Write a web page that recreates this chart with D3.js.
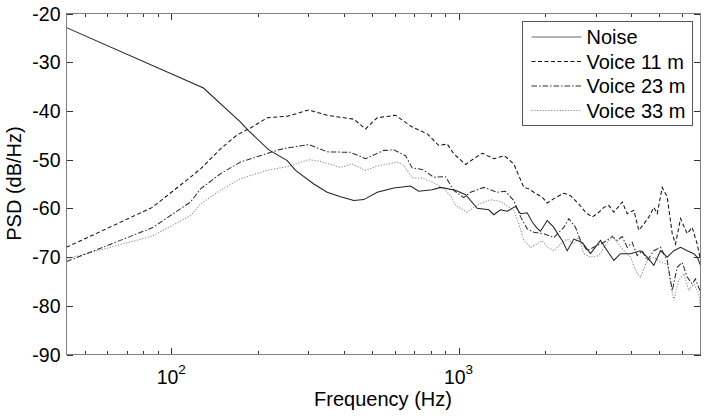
<!DOCTYPE html>
<html><head><meta charset="utf-8">
<script src="https://cdn.jsdelivr.net/npm/d3@7"></script>
<style>body{margin:0;background:#fff}svg{display:block}text{font-family:Arial,"Liberation Sans",Helvetica,sans-serif;fill:#000}</style>
</head><body><svg id="chart" width="707" height="418"></svg>
<script>
const seriesNames = ["Noise", "Voice 11 m", "Voice 23 m", "Voice 33 m"];

const noiseFreq = [43.2,129.5,174.3,183.9,218.6,253.4,270.8,313.6,349.1,388.5,432.1,468.2,521.2,595.4,680.6,727.3,809.9,865.9,976.3,1058,1162,1275,1327,1400,1477,1579,1644,1734,1805,1879,1929,2036,2147,2235,2296,2390,2520,2695,2880,3121,3293,3472,3664,3969,4300,4538,4784,5048,5327,5617,5927,6252,6592,6773,6955];
const noiseDb = [-22.9,-35.3,-42.3,-43.8,-48.0,-50.2,-52.2,-55.0,-56.7,-57.6,-58.4,-58.2,-56.7,-55.8,-55.4,-56.5,-56.2,-55.7,-56.3,-57.2,-60.0,-60.3,-61.3,-60.3,-60.6,-59.6,-61.1,-60.9,-62.8,-64.1,-64.7,-62.5,-63.9,-65.6,-66.6,-68.7,-66.3,-67.0,-69.3,-66.6,-68.7,-70.7,-69.3,-69.3,-68.7,-70.0,-71.7,-68.7,-70.0,-68.7,-68.0,-68.7,-69.3,-70.0,-71.7];

const voice11Freq = [43.2,85.9,116.7,126.5,148.4,169.7,188.8,215.9,253.4,301.3,349.1,432.1,474.6,521.2,603.4,690.0,778.1,854.1,913.5,963.0,1058,1130,1209,1327,1446,1558,1622,1688,1757,1829,1956,2036,2147,2326,2454,2623,2767,2921,3079,3205,3336,3472,3714,3866,4076,4242,4416,4596,4784,4916,5117,5327,5545,5693,5927,6252,6508,6773,6955];
const voice11Db = [-68.0,-59.8,-53.6,-51.9,-47.8,-44.9,-43.5,-41.4,-41.1,-39.8,-40.9,-41.7,-43.7,-41.4,-40.9,-43.3,-44.7,-47.1,-46.8,-48.8,-51.0,-49.8,-48.7,-49.8,-49.2,-50.9,-53.3,-55.7,-56.0,-56.7,-57.7,-58.9,-58.0,-56.9,-57.4,-59.1,-60.8,-61.8,-60.8,-59.8,-59.4,-60.8,-58.7,-61.1,-60.4,-64.5,-63.2,-61.8,-59.8,-61.1,-55.7,-57.7,-65.2,-67.3,-62.1,-65.2,-63.9,-67.3,-70.7];

const voice23Freq = [43.2,85.9,116.7,126.5,148.4,174.3,235.6,253.4,301.3,349.1,420.8,474.6,549.5,595.4,653.9,690.0,747.6,820.4,901.0,963.0,1043,1101,1225,1364,1457,1558,1644,1734,1829,1981,2147,2326,2421,2554,2659,2805,3040,3205,3428,3568,3714,3866,4024,4188,4360,4538,4784,5048,5327,5545,5770,6007,6252,6508,6683,6955];
const voice23Db = [-70.9,-64.0,-58.7,-56.0,-52.9,-50.5,-48.0,-47.6,-46.9,-48.4,-48.5,-49.8,-48.1,-48.0,-49.2,-51.7,-52.0,-53.6,-53.5,-56.3,-57.8,-56.7,-55.7,-56.7,-56.5,-58.4,-61.7,-64.2,-64.9,-65.2,-66.0,-63.9,-62.1,-63.9,-66.6,-68.7,-67.6,-67.0,-65.8,-66.6,-65.8,-68.0,-67.0,-69.7,-68.7,-70.7,-68.7,-68.0,-70.7,-76.9,-72.1,-71.1,-74.1,-75.5,-74.5,-77.2];

const voice33Freq = [43.2,85.9,116.7,126.5,148.4,174.3,215.9,255.4,301.3,330.9,388.5,426.6,474.6,521.2,611.7,645.1,690.0,747.6,809.9,888.9,938.0,976.3,1072,1177,1293,1400,1558,1622,1688,1784,1879,1956,2036,2147,2265,2390,2520,2623,2730,2880,3079,3249,3428,3568,3761,3969,4133,4300,4538,4784,5048,5327,5617,5845,6085,6334,6592,6861,6955];
const voice33Db = [-70.4,-65.7,-61.5,-59.1,-56.3,-53.9,-52.2,-51.4,-50.0,-50.4,-51.6,-50.9,-52.2,-51.3,-50.5,-51.2,-53.7,-53.8,-54.6,-56.0,-57.4,-59.4,-60.8,-59.1,-58.2,-58.6,-60.4,-63.2,-66.6,-68.0,-67.3,-66.6,-68.0,-68.7,-67.3,-66.3,-67.3,-65.9,-69.3,-70.0,-69.7,-67.6,-65.6,-67.0,-68.7,-70.0,-72.8,-74.1,-70.7,-70.0,-71.1,-71.4,-78.9,-74.8,-73.4,-76.9,-75.5,-77.5,-80.5];

const xDomain = [43.2, 6955];
const yDomain = [-90, -20];
const yTicks = [-90, -80, -70, -60, -50, -40, -30, -20];
const xMajorTicks = [100, 1000];
const xMajorExp = ["2", "3"];
const xMinorTicks = [50, 60, 70, 80, 90, 200, 300, 400, 500, 600, 700, 800, 900, 2000, 3000, 4000, 5000, 6000];
const xTitle = "Frequency (Hz)";
const yTitle = "PSD (dB/Hz)";

const W = 707, H = 418;
const m = {left: 66, right: 7, top: 13, bottom: 64};
const pw = W - m.left - m.right, ph = H - m.top - m.bottom;

const svg = d3.select("#chart");
const x = d3.scaleLog().domain(xDomain).range([0, pw]);
const y = d3.scaleLinear().domain(yDomain).range([ph, 0]);

const g = svg.append("g").attr("transform", `translate(${m.left + 0.5},${m.top + 0.5})`);

g.append("defs").append("clipPath").attr("id", "clip")
  .append("rect").attr("x", 0).attr("y", 0).attr("width", pw).attr("height", ph);

const tickCol = "#333";
function styleAxis(sel) {
  sel.select(".domain").remove();
  sel.selectAll(".tick line").attr("stroke", tickCol).attr("shape-rendering", "crispEdges");
  sel.selectAll(".tick text").remove();
}
g.append("g").attr("transform", `translate(0,${ph})`)
  .call(d3.axisBottom(x).tickValues(xMinorTicks).tickSize(-3.5)).call(styleAxis);
g.append("g").attr("transform", `translate(0,${ph})`)
  .call(d3.axisBottom(x).tickValues(xMajorTicks).tickSize(-6.5)).call(styleAxis);
g.append("g").call(d3.axisTop(x).tickValues(xMinorTicks).tickSize(-3.5)).call(styleAxis);
g.append("g").call(d3.axisTop(x).tickValues(xMajorTicks).tickSize(-6.5)).call(styleAxis);
g.append("g").call(d3.axisLeft(y).tickValues(yTicks).tickSize(-6.5)).call(styleAxis);
g.append("g").attr("transform", `translate(${pw},0)`)
  .call(d3.axisRight(y).tickValues(yTicks).tickSize(-6.5)).call(styleAxis);

g.append("g").selectAll("text").data(yTicks).join("text")
  .attr("x", -6).attr("y", d => y(d)).attr("dy", "0.36em")
  .attr("text-anchor", "end").attr("font-size", 19.5).text(d => d);

const xl = g.append("g").selectAll("g").data(xMajorTicks).join("g")
  .attr("transform", d => `translate(${x(d)},${ph + 29})`);
xl.append("text").attr("x", -14.5).attr("y", 0).attr("font-size", 19.5).text("10");
xl.append("text").attr("x", 7).attr("y", -10).attr("font-size", 13.5).text((d, i) => xMajorExp[i]);

svg.append("text").attr("x", 383).attr("y", 406).attr("text-anchor", "middle")
  .attr("font-size", 20).text(xTitle);
svg.append("text").attr("transform", `translate(21,${m.top + ph / 2}) rotate(-90)`)
  .attr("text-anchor", "middle").attr("font-size", 20).text(yTitle);

const styles = [
  {color: "#222", dash: null},
  {color: "#111", dash: "4,2.5"},
  {color: "#2e2e2e", dash: "5.5,2,1.5,2"},
  {color: "#8a8a8a", dash: "1.2,1.6"}
];
const series = [
  d3.zip(noiseFreq, noiseDb),
  d3.zip(voice11Freq, voice11Db),
  d3.zip(voice23Freq, voice23Db),
  d3.zip(voice33Freq, voice33Db)
];
const line = d3.line().x(d => x(d[0])).y(d => y(d[1]));
const plot = g.append("g").attr("clip-path", "url(#clip)");
[3, 2, 1, 0].forEach(i => {
  plot.append("path").datum(series[i]).attr("d", line)
    .attr("fill", "none").attr("stroke", styles[i].color).attr("stroke-width", 1.05)
    .attr("stroke-dasharray", styles[i].dash);
});

g.append("rect").attr("x", 0).attr("y", 0).attr("width", pw).attr("height", ph)
  .attr("fill", "none").attr("stroke", "#808080").attr("shape-rendering", "crispEdges");

const lg = svg.append("g").attr("transform", "translate(522.5,21.5)");
lg.append("rect").attr("width", 170).attr("height", 104).attr("fill", "#fff")
  .attr("stroke", "#555").attr("shape-rendering", "crispEdges");
seriesNames.forEach((nm, i) => {
  const yy = 15.5 + i * 24.5;
  lg.append("line").attr("x1", 9).attr("x2", 59).attr("y1", yy).attr("y2", yy)
    .attr("stroke", i === 0 ? "#666" : styles[i].color).attr("stroke-dasharray", styles[i].dash);
  lg.append("text").attr("x", 64).attr("y", yy).attr("dy", "0.36em")
    .attr("font-size", 20).text(nm);
});
</script></body></html>
